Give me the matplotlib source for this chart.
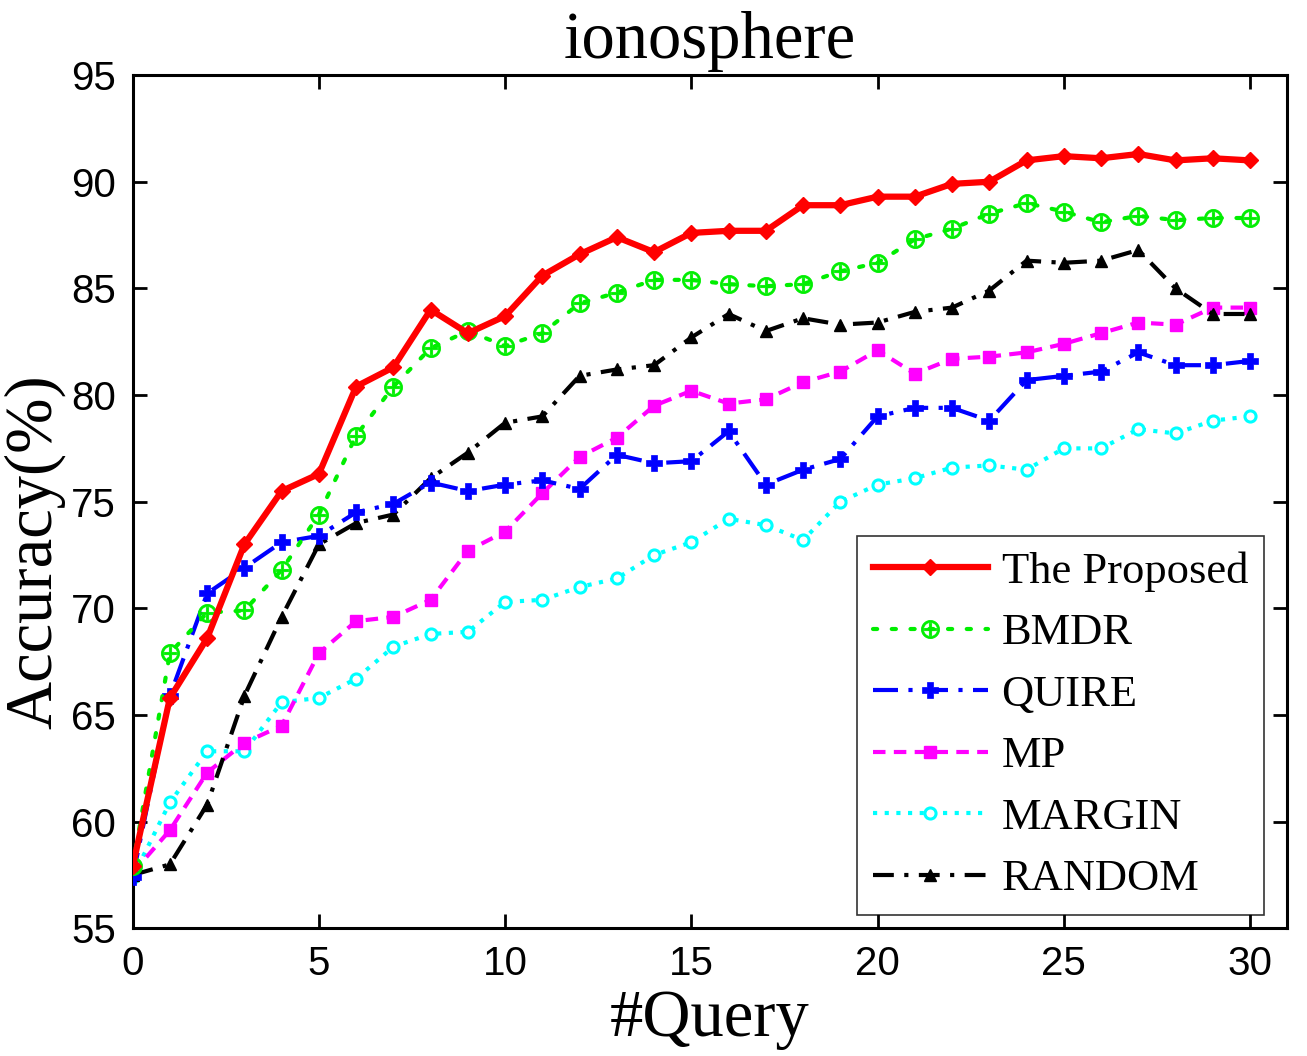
import numpy as np
import matplotlib
matplotlib.use("Agg")
import matplotlib.pyplot as plt

queries = list(range(31))

proposed = [57.9, 65.8, 68.6, 73.0, 75.5, 76.3, 80.4, 81.3, 84.0, 82.9, 83.7,
            85.6, 86.6, 87.4, 86.7, 87.6, 87.7, 87.7, 88.9, 88.9, 89.3,
            89.3, 89.9, 90.0, 91.0, 91.2, 91.1, 91.3, 91.0, 91.1, 91.0]
bmdr = [57.9, 67.9, 69.8, 69.9, 71.8, 74.4, 78.1, 80.4, 82.2, 83.0, 82.3,
        82.9, 84.3, 84.8, 85.4, 85.4, 85.2, 85.1, 85.2, 85.8, 86.2,
        87.3, 87.8, 88.5, 89.0, 88.6, 88.1, 88.4, 88.2, 88.3, 88.3]
quire = [57.4, 65.9, 70.7, 71.9, 73.1, 73.4, 74.5, 74.9, 75.9, 75.5, 75.8,
         76.0, 75.6, 77.2, 76.8, 76.9, 78.3, 75.8, 76.5, 77.0, 79.0,
         79.4, 79.4, 78.8, 80.7, 80.9, 81.1, 82.0, 81.4, 81.4, 81.6]
mp = [57.6, 59.6, 62.3, 63.7, 64.5, 67.9, 69.4, 69.6, 70.4, 72.7, 73.6,
      75.4, 77.1, 78.0, 79.5, 80.2, 79.6, 79.8, 80.6, 81.1, 82.1,
      81.0, 81.7, 81.8, 82.0, 82.4, 82.9, 83.4, 83.3, 84.1, 84.1]
margin = [57.4, 60.9, 63.3, 63.3, 65.6, 65.8, 66.7, 68.2, 68.8, 68.9, 70.3,
          70.4, 71.0, 71.4, 72.5, 73.1, 74.2, 73.9, 73.2, 75.0, 75.8,
          76.1, 76.6, 76.7, 76.5, 77.5, 77.5, 78.4, 78.2, 78.8, 79.0]
random_ = [57.5, 58.0, 60.8, 65.9, 69.6, 73.0, 74.0, 74.4, 76.1, 77.3, 78.7,
           79.0, 80.9, 81.2, 81.4, 82.7, 83.8, 83.0, 83.6, 83.3, 83.4,
           83.9, 84.1, 84.9, 86.3, 86.2, 86.3, 86.8, 85.0, 83.8, 83.8]

labels = ["The Proposed", "BMDR", "QUIRE", "MP", "MARGIN", "RANDOM"]
xticks = [0, 5, 10, 15, 20, 25, 30]
yticks = [55, 60, 65, 70, 75, 80, 85, 90, 95]

fig = plt.figure(figsize=(13.07, 10.56), dpi=100)
ax = fig.add_axes([0.1015, 0.1209, 0.8834, 0.808])

serif = "Liberation Serif"
sans = "Liberation Sans"

ax.plot(queries, proposed, color="red", linestyle="-", linewidth=4.5,
        marker="D", markersize=8, label=labels[0], zorder=6)
ax.plot(queries, bmdr, color="#00ee00", linestyle=(0, (1, 3.5)), linewidth=3,
        dash_capstyle="round",
        marker=r"$\oplus$", markersize=13, markeredgewidth=0.6, label=labels[1], zorder=5)
ax.plot(queries, quire, color="blue", linestyle=(0, (6, 2.5, 1, 2.5)), linewidth=3,
        marker="P", markersize=11, markeredgewidth=0.5, label=labels[2], zorder=4)
ax.plot(queries, mp, color="magenta", linestyle=(0, (3, 2)), linewidth=3,
        marker="s", markersize=8, label=labels[3], zorder=3)
ax.plot(queries, margin, color="cyan", linestyle=(0, (1, 1.8)), linewidth=3,
        marker="o", markersize=8, markerfacecolor="white", markeredgewidth=2.2,
        label=labels[4], zorder=2)
ax.plot(queries, random_, color="black", linestyle=(0, (5, 2.5, 1, 2.5)), linewidth=3,
        marker="^", markersize=9, label=labels[5], zorder=3)

ax.set_xlim(0, 31)
ax.set_ylim(55, 95)
ax.set_xticks(xticks)
ax.set_yticks(yticks)
ax.tick_params(direction="in", length=10, width=2, top=True, right=True,
               labelsize=29, pad=12)
for lab in ax.get_xticklabels() + ax.get_yticklabels():
    lab.set_fontfamily(sans)
for sp in ax.spines.values():
    sp.set_linewidth(2.2)

ax.set_title("ionosphere", fontsize=48, fontfamily=serif, pad=12)
ax.set_xlabel("#Query", fontsize=48, fontfamily=serif, labelpad=4)
ax.set_ylabel("Accuracy(%)", fontsize=48, fontfamily=serif)
ax.yaxis.set_label_coords(-0.058, 0.441)

leg = ax.legend(loc="lower right", bbox_to_anchor=(0.9795, 0.016),
                prop={"family": serif, "size": 32}, frameon=True, fancybox=False,
                edgecolor="black", handlelength=2.6, handletextpad=0.3,
                labelspacing=0.48, borderpad=0.35, borderaxespad=0.0)
leg.get_frame().set_linewidth(1.2)

fig.savefig("out.png", dpi=100)
